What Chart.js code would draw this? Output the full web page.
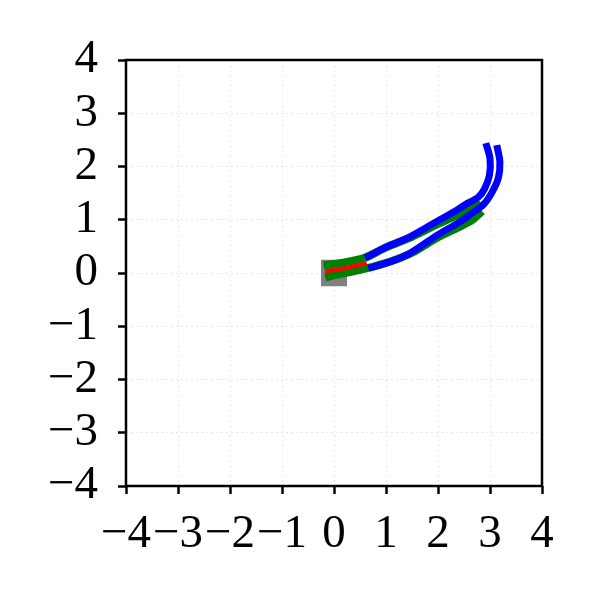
<!DOCTYPE html>
<html>
<head>
<meta charset="utf-8">
<script src="https://cdn.jsdelivr.net/npm/chart.js@4"></script>
<style>
  html, body { margin: 0; padding: 0; background: #fff; }
  #wrap { width: 598px; height: 598px; }
</style>
</head>
<body>
<div id="wrap"><canvas id="laneChart" width="598" height="598"></canvas></div>
<script>
// tick labels for both axes
const tickValues = [-4, -3, -2, -1, 0, 1, 2, 3, 4];

// blue lane boundaries
const laneTopX = [0.60, 1.01, 1.40, 1.91, 2.36, 2.52, 2.78, 2.90, 2.99, 3.00, 2.92];
const laneTopY = [0.28, 0.49, 0.65, 0.93, 1.18, 1.28, 1.43, 1.59, 1.84, 2.15, 2.44];
const laneBotX = [0.66, 1.08, 1.46, 1.97, 2.42, 2.62, 2.87, 3.03, 3.16, 3.19, 3.13];
const laneBotY = [0.09, 0.21, 0.37, 0.70, 0.96, 1.10, 1.28, 1.50, 1.78, 2.09, 2.40];

// green planned boundaries
const planTopX = [-0.20, 0.20, 0.58, 1.00, 1.50, 2.00, 2.40, 2.65, 2.80];
const planTopY = [0.14, 0.20, 0.28, 0.48, 0.68, 0.92, 1.10, 1.21, 1.35];
const planBotX = [-0.17, 0.20, 0.60, 1.10, 1.50, 2.00, 2.40, 2.65, 2.85];
const planBotY = [-0.08, 0.00, 0.08, 0.22, 0.38, 0.67, 0.86, 0.99, 1.16];

// red driven path
const pathX = [-0.17, 0.20, 0.63];
const pathY = [0.03, 0.09, 0.18];

// grey vehicle footprint
const carX = [-0.25, 0.25, 0.25, -0.25, -0.25];
const carY = [-0.25, -0.25, 0.25, 0.25, -0.25];

function toPoints(xs, ys) {
    return xs.map((x, i) => ({ x: x, y: ys[i] }));
}

function lineSet(xs, ys, color, width, order) {
    return {
        data: toPoints(xs, ys),
        showLine: true,
        borderColor: color,
        borderWidth: width,
        pointRadius: 0,
        tension: 0.3,
        fill: false,
        order: order
    };
}

const frame = {
    id: 'frame',
    afterDraw(chart) {
        const a = chart.chartArea;
        const ctx = chart.ctx;
        ctx.save();
        ctx.strokeStyle = '#000';
        ctx.lineWidth = 2.5;
        ctx.strokeRect(a.left, a.top, a.right - a.left, a.bottom - a.top);
        ctx.restore();
    }
};

const fontSpec = { family: "'Liberation Serif', 'DejaVu Serif', serif", size: 47 };
const minusSign = v => (v < 0 ? '\u2212' + Math.abs(v) : '' + v);

function axis(side) {
    return {
        type: 'linear',
        position: side,
        min: -4,
        max: 4,
        afterBuildTicks: s => { s.ticks = tickValues.map(v => ({ value: v })); },
        ticks: {
            color: '#000',
            font: fontSpec,
            padding: side === 'left' ? 20 : 12,
            maxRotation: 0,
            autoSkip: false,
            callback: minusSign
        },
        grid: {
            color: 'rgba(225,225,225,0.8)',
            lineWidth: 1,
            tickColor: '#000',
            tickWidth: 2.5,
            tickLength: 8,
            tickBorderDash: []
        },
        border: { display: false, dash: [2, 3] },
        afterFit: s => {
            if (side === 'left') s.width = 126;
            else s.height = 112;
        }
    };
}

new Chart(document.getElementById('laneChart'), {
    type: 'scatter',
    data: {
        datasets: [
            {
                data: toPoints(carX, carY),
                showLine: true,
                borderWidth: 0,
                borderColor: 'rgba(0,0,0,0)',
                backgroundColor: '#808080',
                pointRadius: 0,
                fill: 'shape',
                order: 6
            },
            lineSet(planTopX, planTopY, '#008000', 8, 5),
            lineSet(planBotX, planBotY, '#008000', 8, 4),
            lineSet(laneTopX, laneTopY, '#0000ff', 7, 3),
            lineSet(laneBotX, laneBotY, '#0000ff', 7, 2),
            lineSet(pathX, pathY, '#ff0000', 4, 1)
        ]
    },
    options: {
        responsive: false,
        animation: false,
        layout: { padding: { top: 60, right: 56, left: 0, bottom: 0 } },
        plugins: { legend: { display: false }, tooltip: { enabled: false } },
        scales: { x: axis('bottom'), y: axis('left') }
    },
    plugins: [frame]
});
</script>
</body>
</html>
